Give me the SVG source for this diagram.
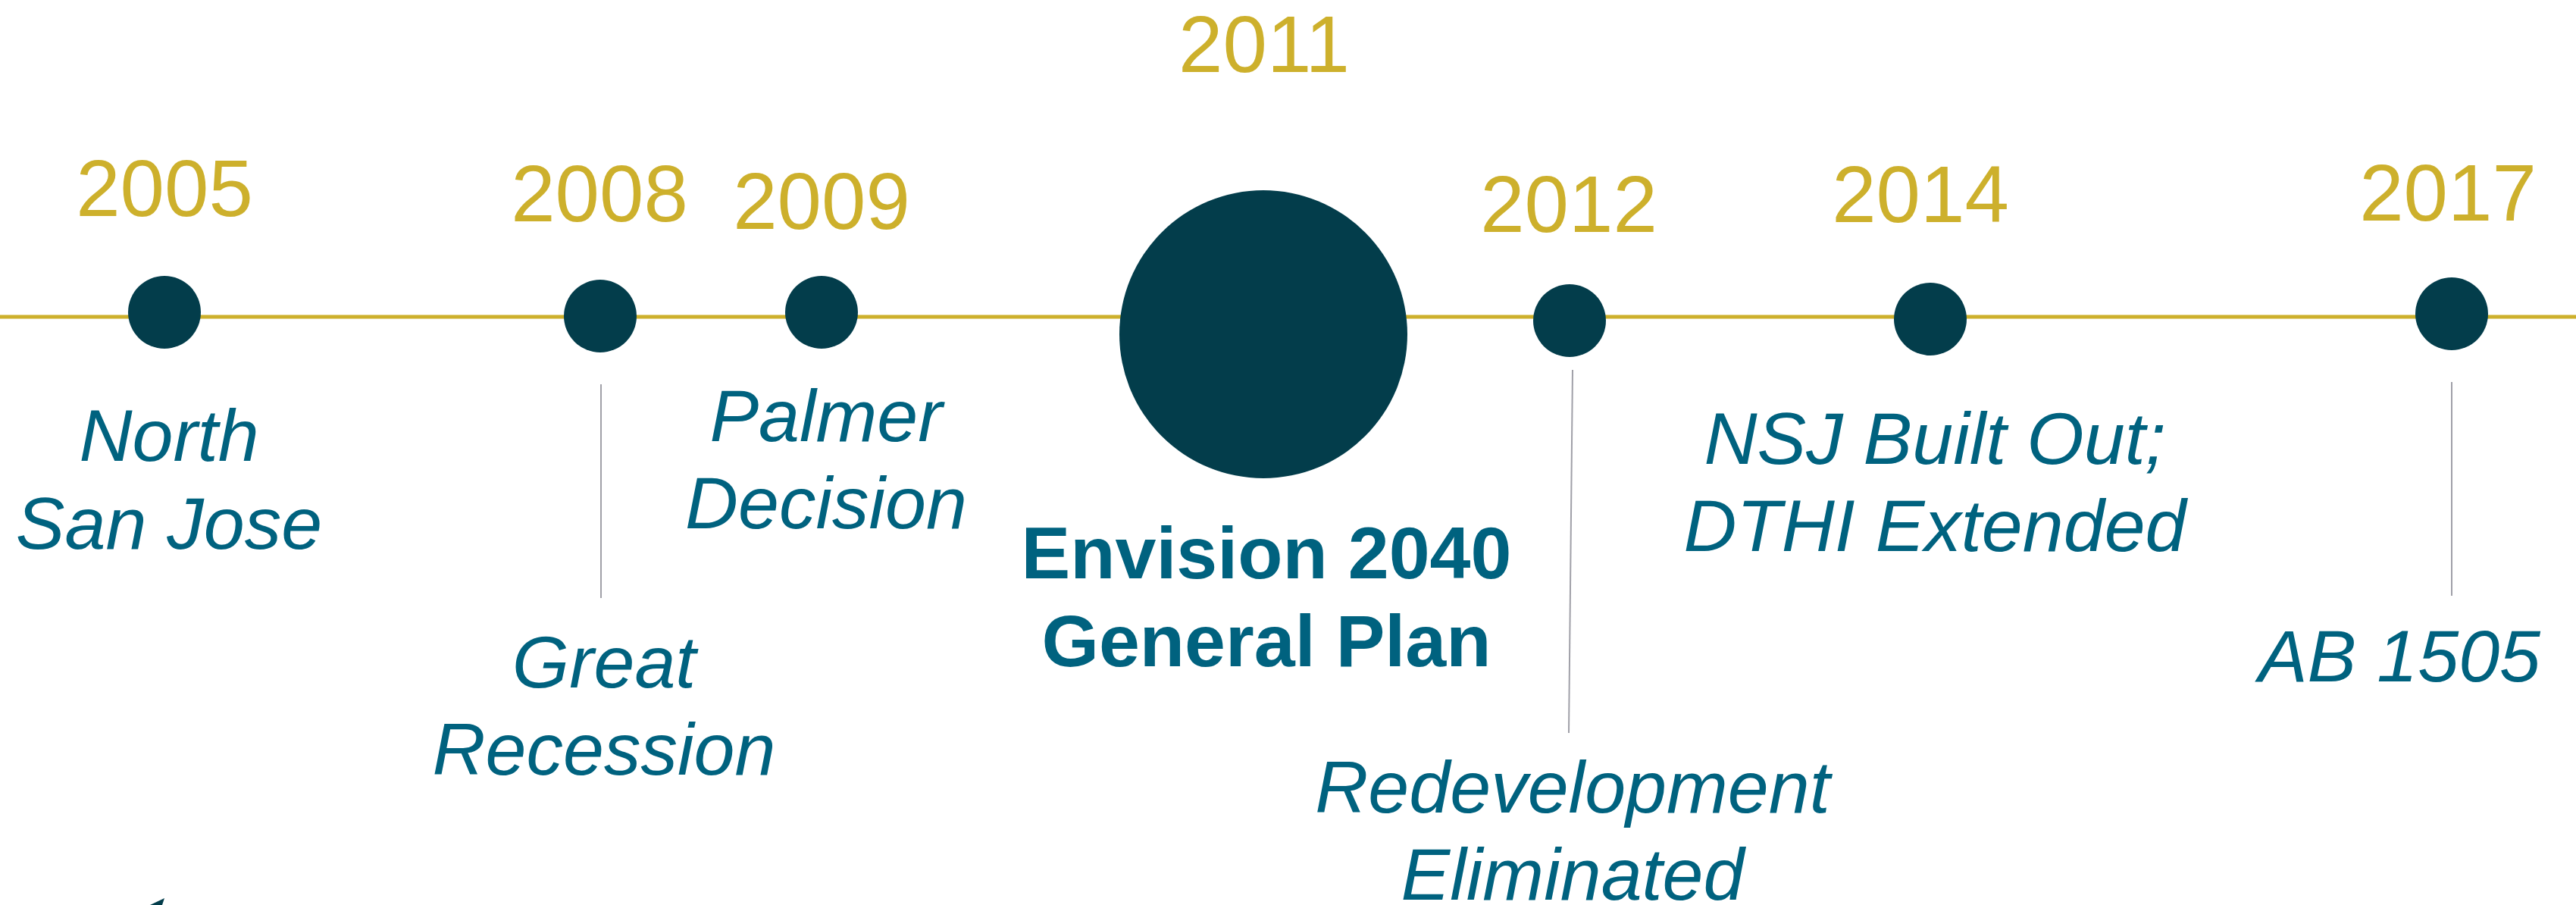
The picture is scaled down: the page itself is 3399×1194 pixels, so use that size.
<svg xmlns="http://www.w3.org/2000/svg" width="3399" height="1194" viewBox="0 0 3399 1194">
<style>
.yr{font-family:"Liberation Sans",Arial,sans-serif;font-size:105px;fill:#CDB02C;text-anchor:middle}
.ev{font-family:"Liberation Sans",Arial,sans-serif;font-size:97px;font-style:italic;fill:#00627F;text-anchor:middle}
.evb{font-family:"Liberation Sans",Arial,sans-serif;font-size:97px;font-weight:bold;fill:#00627F;text-anchor:middle}
.dot{fill:#033D4B}
.tick{stroke:#A0A0A8;stroke-width:2;fill:none}
.axis{stroke:#CDB02C;stroke-width:5;fill:none}
</style>
<rect width="3399" height="1194" fill="#ffffff"/>
<g id="connectors">
<line class="axis" x1="0" y1="418" x2="3399" y2="418"/>
<line class="tick" x1="793" y1="507" x2="793" y2="789"/>
<line class="tick" x1="2075" y1="488" x2="2070" y2="967"/>
<line class="tick" x1="3235" y1="504" x2="3235" y2="786"/>
</g>
<g id="n2005">
<text class="yr" x="217" y="285">2005</text>
<circle class="dot" cx="217" cy="412" r="48"/>
<text class="ev" x="223" y="608">North</text>
<text class="ev" x="223" y="724">San Jose</text>
</g>
<g id="n2008">
<text class="yr" x="791" y="292">2008</text>
<circle class="dot" cx="792" cy="417" r="48"/>
<text class="ev" x="797" y="907">Great</text>
<text class="ev" x="797" y="1022">Recession</text>
</g>
<g id="n2009">
<text class="yr" x="1084" y="302">2009</text>
<circle class="dot" cx="1084" cy="412" r="48"/>
<text class="ev" x="1090" y="582">Palmer</text>
<text class="ev" x="1090" y="697">Decision</text>
</g>
<g id="n2011">
<text class="yr" x="1668" y="95">2011</text>
<circle class="dot" cx="1667" cy="441" r="190"/>
<text class="evb" x="1671" y="763">Envision 2040</text>
<text class="evb" x="1671" y="879">General Plan</text>
</g>
<g id="n2012">
<text class="yr" x="2070" y="306">2012</text>
<circle class="dot" cx="2071" cy="423" r="48"/>
<text class="ev" x="2075" y="1072">Redevelopment</text>
<text class="ev" x="2075" y="1187">Eliminated</text>
</g>
<g id="n2014">
<text class="yr" x="2534" y="293">2014</text>
<circle class="dot" cx="2547" cy="421" r="48"/>
<text class="ev" x="2553" y="612">NSJ Built Out;</text>
<text class="ev" x="2553" y="727">DTHI Extended</text>
</g>
<g id="n2017">
<text class="yr" x="3230" y="291">2017</text>
<circle class="dot" cx="3235" cy="414" r="48"/>
<text class="ev" x="3166" y="899">AB 1505</text>
</g>
<polygon class="dot" points="217,1185 198,1194 214,1194"/>
</svg>
